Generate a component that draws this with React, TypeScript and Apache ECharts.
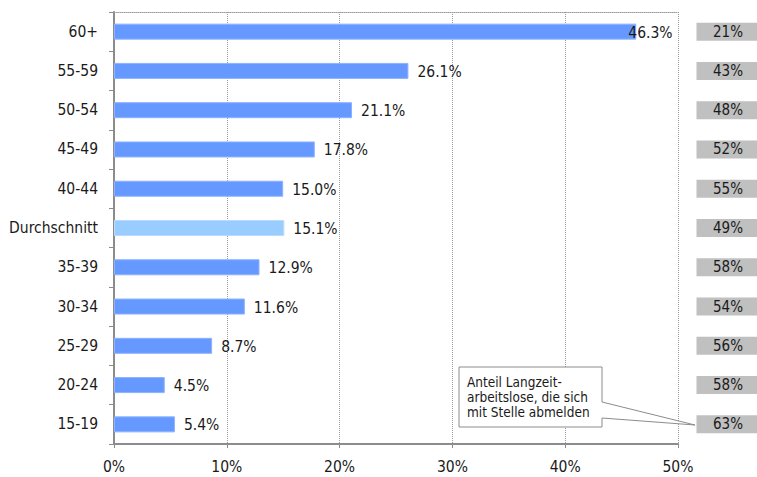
import React, { useEffect, useRef } from "react";
import * as echarts from "echarts";

const categories = ["60+", "55-59", "50-54", "45-49", "40-44", "Durchschnitt", "35-39", "30-34", "25-29", "20-24", "15-19"];
const values = [46.3, 26.1, 21.1, 17.8, 15.0, 15.1, 12.9, 11.6, 8.7, 4.5, 5.4];
const rates = [21, 43, 48, 52, 55, 49, 58, 54, 56, 58, 63];
const xTicks = [0, 10, 20, 30, 40, 50];
const averageLabel = "Durchschnitt";
const calloutText = ["Anteil Langzeit-", "arbeitslose, die sich", "mit Stelle abmelden"];

const FONT = "DejaVu Sans Condensed";

export default function App() {
  const ref = useRef<HTMLDivElement>(null);
  useEffect(() => {
    const chart = echarts.init(ref.current!, null, { renderer: "svg" });
    const option: any = {
      animation: false,
      textStyle: { fontFamily: FONT },
      grid: { left: 114, right: 79, top: 12, bottom: 33, containLabel: false, outerBoundsMode: "none" },
      xAxis: [
        {
          type: "value",
          min: xTicks[0],
          max: xTicks[xTicks.length - 1],
          interval: 10,
          axisLine: { show: true, lineStyle: { color: "#8c8c8c", width: 2 } },
          axisTick: { show: true, length: 4, lineStyle: { color: "#8c8c8c", width: 1 } },
          axisLabel: { formatter: (v: number) => v + "%", color: "#1a1a1a", fontSize: 15.5, margin: 15, fontFamily: FONT },
          splitLine: { show: true, lineStyle: { color: "#9a9a9a", type: "dotted", width: 1 } },
        },
        {
          type: "value",
          position: "top",
          min: 0,
          max: 50,
          interval: 10,
          axisLine: { show: true, lineStyle: { color: "#9a9a9a", type: "dotted", width: 1 } },
          axisTick: { show: false },
          axisLabel: { show: false },
          splitLine: { show: false },
        },
      ],
      yAxis: [
        {
          type: "category",
          data: categories,
          inverse: true,
          axisLine: { show: true, lineStyle: { color: "#8c8c8c", width: 2 } },
          axisTick: { show: true, length: 5, lineStyle: { color: "#8c8c8c", width: 1 } },
          axisLabel: { color: "#1a1a1a", fontSize: 15.5, margin: 16, fontFamily: FONT },
        },
        {
          type: "category",
          data: categories,
          inverse: true,
          position: "right",
          axisLine: { show: false },
          axisTick: { show: false },
          axisLabel: {
            formatter: (_v: string, i: number) => rates[i] + "%",
            color: "#1a1a1a",
            fontSize: 15,
            fontFamily: FONT,
            backgroundColor: "#c0c0c0",
            width: 61,
            lineHeight: 15,
            padding: [2, 1, 1, 1],
            align: "center",
            margin: 50,
          },
        },
      ],
      series: [
        {
          type: "bar",
          xAxisIndex: 0,
          yAxisIndex: 0,
          barWidth: 16,
          data: values.map((v, i) => {
            const item: any = { value: v };
            if (categories[i] === averageLabel) {
              item.itemStyle = { color: "#99ccff", borderColor: "#b8dcff" };
            }
            if (i === 0) {
              item.label = { offset: [-17, 1] };
            }
            return item;
          }),
          itemStyle: { color: "#6699ff", borderColor: "#8cb2ff", borderWidth: 1 },
          label: {
            show: true,
            position: "right",
            distance: 9,
            offset: [0, 1],
            formatter: (p: any) => p.value.toFixed(1) + "%",
            color: "#1a1a1a",
            fontSize: 15.5,
            fontFamily: FONT,
          },
        },
      ],
      graphic: [
        {
          type: "polygon",
          shape: {
            points: [
              [459, 367],
              [602, 367],
              [602, 402],
              [695, 425],
              [602, 418],
              [602, 427],
              [459, 427],
            ],
          },
          style: { fill: "#ffffff", stroke: "#8c8c8c", lineWidth: 1 },
          z: 100,
        },
        {
          type: "text",
          x: 467,
          y: 374,
          z: 101,
          style: {
            text: calloutText.join("\n"),
            font: `13.5px "${FONT}"`,
            fill: "#1a1a1a",
            lineHeight: 15,
          },
        },
      ],
    };
    chart.setOption(option);
    return () => chart.dispose();
  }, []);
  return <div ref={ref} style={{ width: 757, height: 477, position: "absolute", left: 0, top: 0 }} />;
}
